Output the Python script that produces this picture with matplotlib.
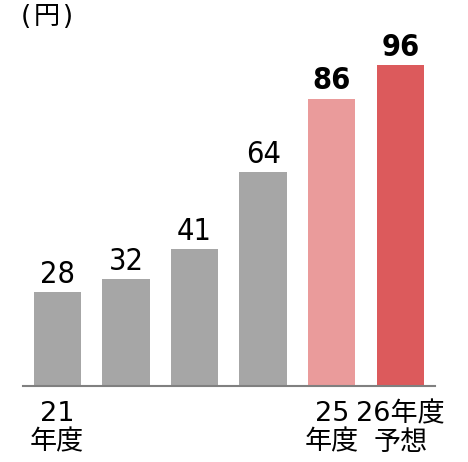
import matplotlib.pyplot as plt

plt.rcParams['font.family'] = ['DejaVu Sans', 'Noto Sans CJK JP']

# data
years = ['21\n年度', '', '', '', '25\n年度', '26年度\n予想']
values = [28, 32, 41, 64, 86, 96]
colors = ['#a6a6a6', '#a6a6a6', '#a6a6a6', '#a6a6a6', '#ea9b9b', '#dc5a5c']
bold = [False, False, False, False, True, True]

fig = plt.figure(figsize=(4.68, 4.62), dpi=100)
ax = fig.add_axes([0.049, 0.1645, 0.880, 0.723])

x = list(range(len(values)))
bars = ax.bar(x, values, width=0.69, color=colors)

# value labels above bars
for xi, v, b in zip(x, values, bold):
    ax.text(xi, v + 1.0, str(v), ha='center', va='bottom', fontsize=22,
            fontweight='bold' if b else 'normal', fontstretch='condensed')

ax.set_xlim(-0.5, 5.5)
ax.set_ylim(0, 100)
ax.set_xticks(x)
ax.set_xticklabels(years, fontsize=19.5, linespacing=1.12)
ax.tick_params(axis='x', length=0, pad=11)
ax.set_yticks([])
for s in ['top', 'right', 'left']:
    ax.spines[s].set_visible(False)
ax.spines['bottom'].set_color('#808080')
ax.spines['bottom'].set_linewidth(1.5)

fig.text(0.045, 0.992, '(\u200a円\u200a)', fontsize=19, va='top', ha='left')

fig.savefig('out.png', dpi=100)
